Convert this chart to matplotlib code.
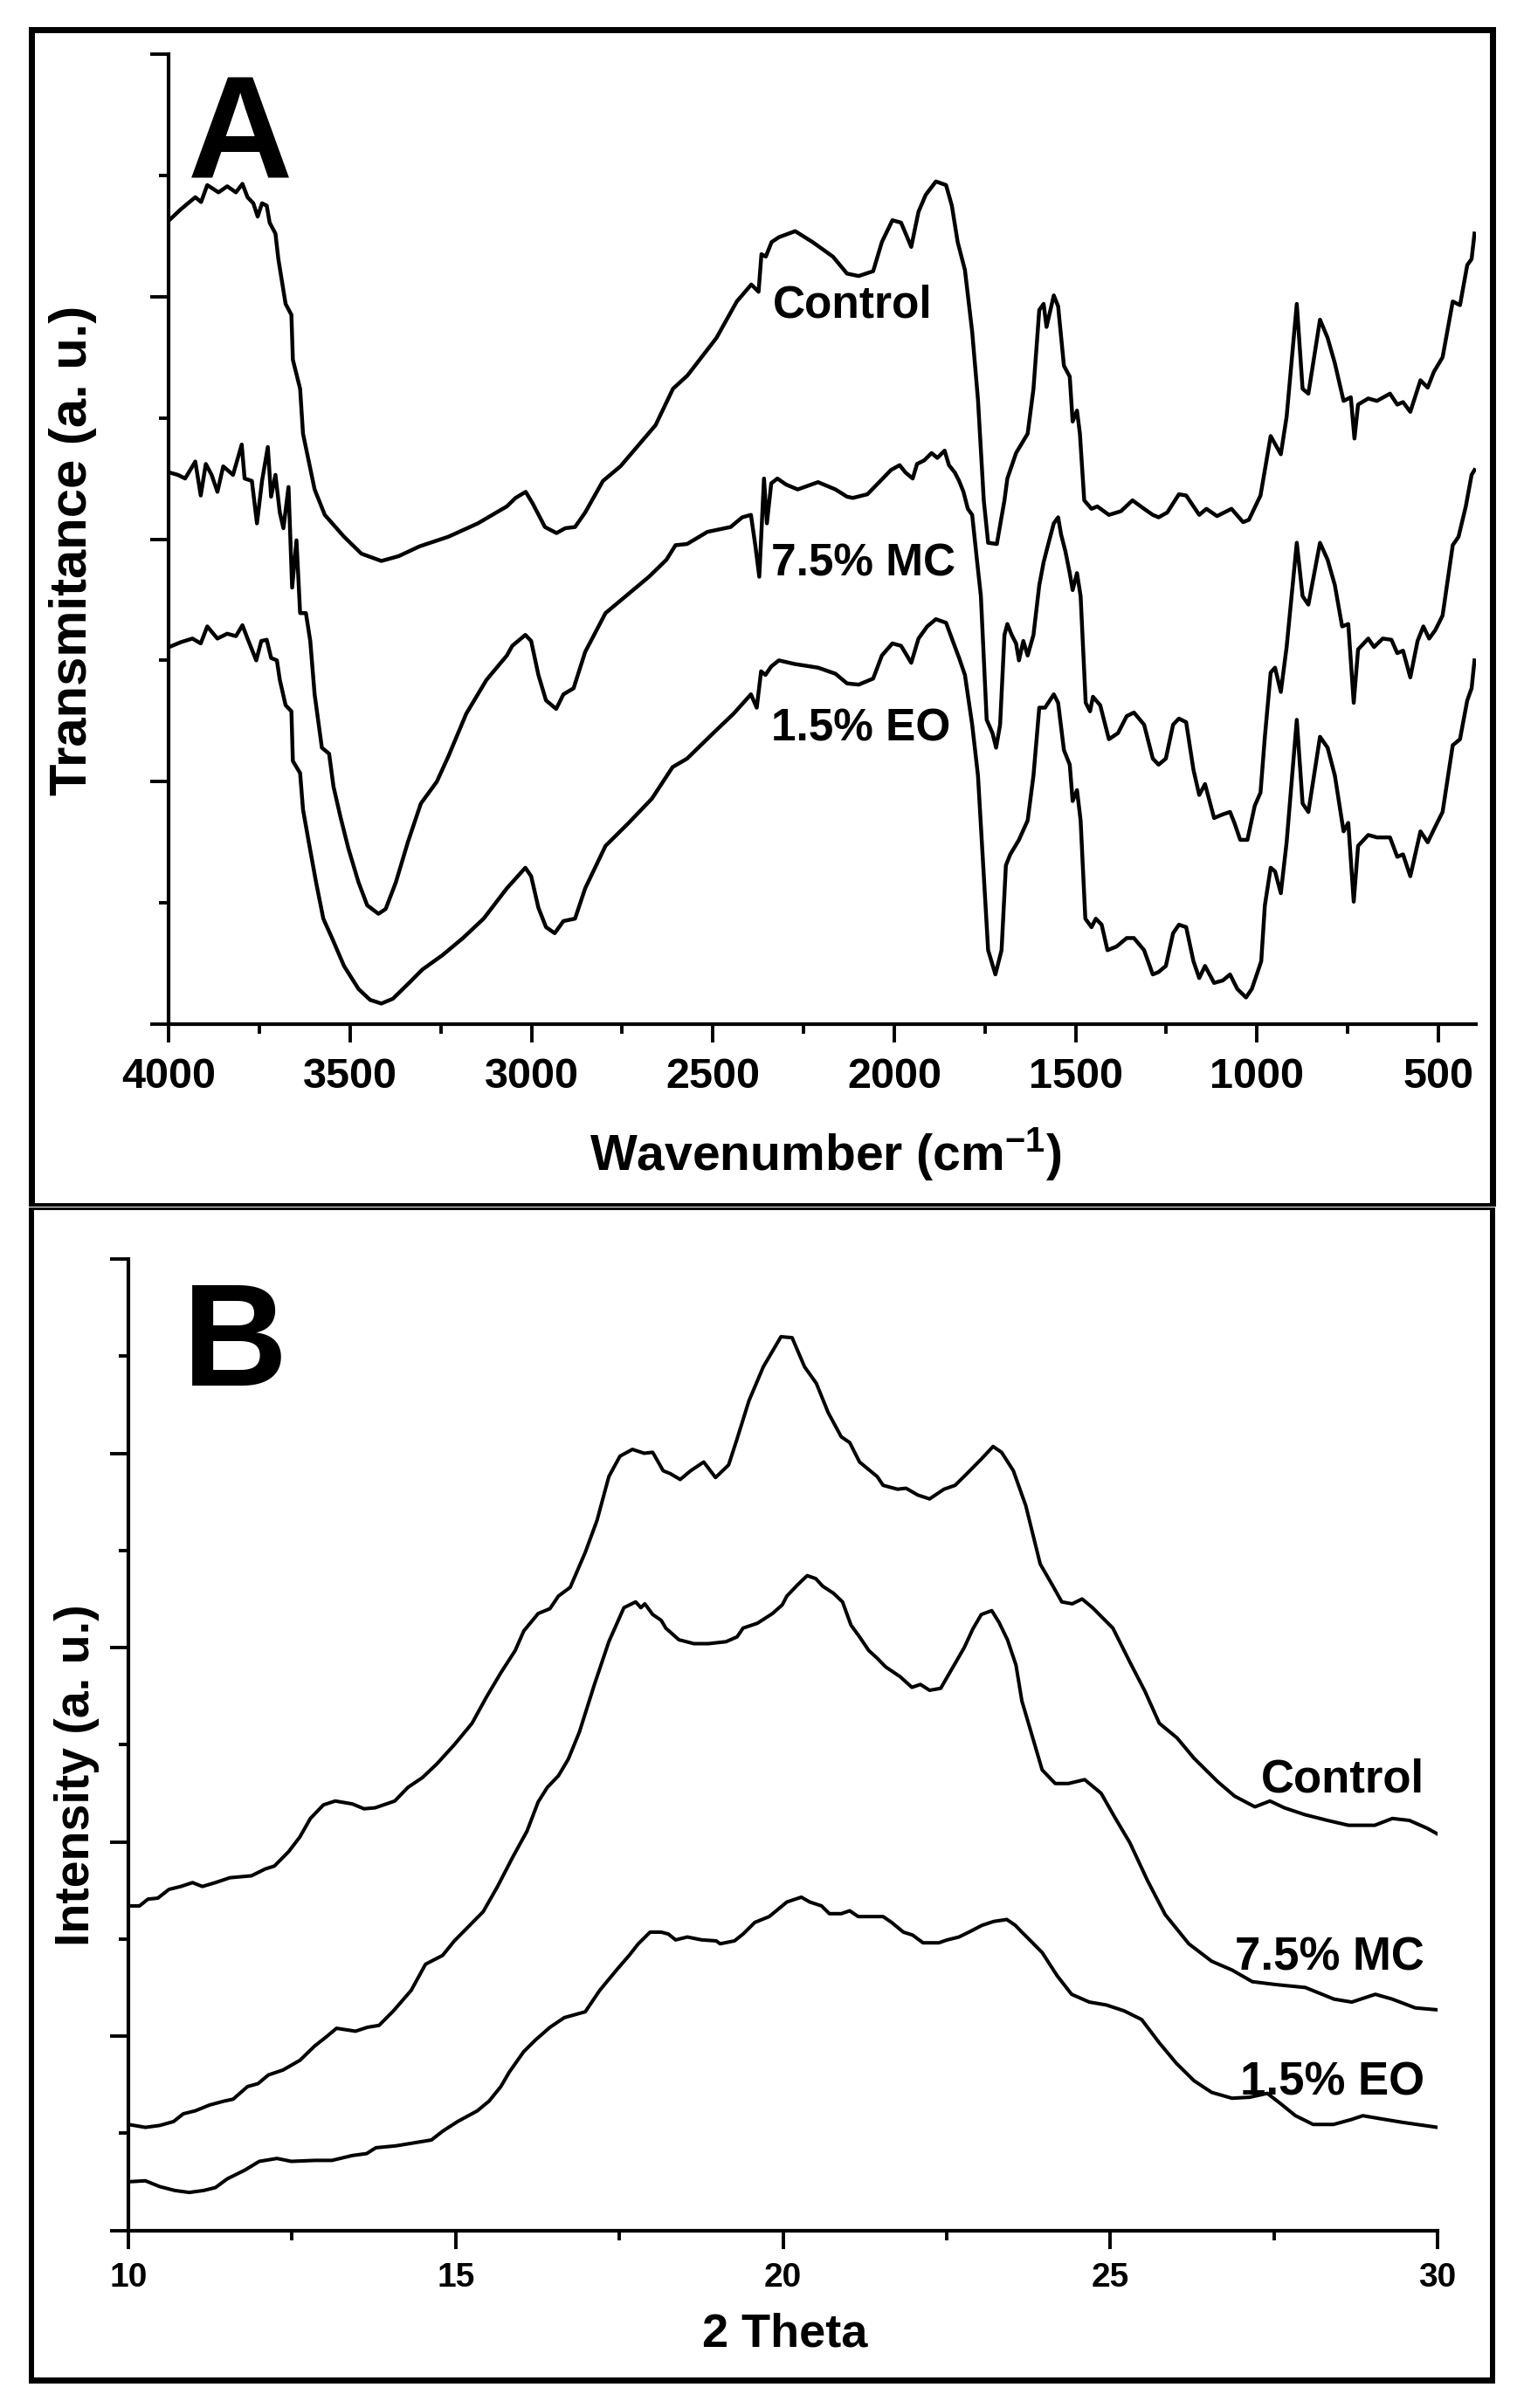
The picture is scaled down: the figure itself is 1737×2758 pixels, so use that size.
import matplotlib
matplotlib.use('Agg')
import matplotlib.pyplot as plt
from matplotlib.patches import Rectangle
from matplotlib.ticker import MultipleLocator, FixedLocator

plt.rcParams['font.family'] = ['Liberation Sans', 'DejaVu Sans']
plt.rcParams['font.weight'] = 'bold'
plt.rcParams['mathtext.fontset'] = 'custom'
plt.rcParams['mathtext.rm'] = 'Liberation Sans:bold'
plt.rcParams['mathtext.bf'] = 'Liberation Sans:bold'
plt.rcParams['mathtext.default'] = 'bf'

# ---------------- Panel A : FTIR (wavenumber cm-1, transmittance a.u.) ----------------
ftir_control = [(3999,6.63),(3967,6.72),(3927,6.82),(3911,6.78),(3894,6.92),(3863,6.86),(3839,6.91),(3815,6.86),
    (3797,6.93),(3783,6.82),(3767,6.77),(3755,6.66),(3743,6.77),(3730,6.75),(3722,6.61),(3706,6.52),(3698,6.31),
    (3678,5.94),(3662,5.85),(3658,5.48),(3638,5.24),(3630,4.87),(3598,4.41),(3570,4.20),(3517,4.02),(3469,3.88),
    (3414,3.82),(3366,3.86),(3309,3.94),(3229,4.02),(3148,4.13),(3068,4.27),(3044,4.34),(3016,4.39),(2996,4.29),
    (2963,4.10),(2931,4.05),(2907,4.09),(2880,4.10),(2852,4.22),(2803,4.48),(2755,4.60),(2658,4.94),(2610,5.24),
    (2570,5.35),(2490,5.66),(2434,5.96),(2394,6.10),(2374,6.04),(2366,6.35),(2354,6.33),(2338,6.45),(2318,6.49),
    (2273,6.54),(2225,6.45),(2169,6.33),(2130,6.19),(2098,6.17),(2058,6.21),(2034,6.45),(2005,6.63),(1981,6.61),
    (1953,6.41),(1933,6.70),(1913,6.84),(1885,6.95),(1857,6.92),(1841,6.75),(1825,6.45),(1805,6.22),(1785,5.71),
    (1769,5.15),(1753,4.32),(1741,3.97),(1717,3.96),(1696,4.32),(1688,4.50),(1664,4.71),(1632,4.87),(1616,5.24),
    (1600,5.89),(1588,5.94),(1580,5.75),(1560,6.01),(1548,5.92),(1532,5.43),(1516,5.34),(1508,4.97),(1496,5.06),
    (1488,4.87),(1476,4.32),(1456,4.25),(1440,4.27),(1408,4.20),(1375,4.23),(1343,4.32),(1311,4.25),(1287,4.20),
    (1271,4.18),(1247,4.22),(1215,4.37),(1195,4.36),(1159,4.20),(1139,4.25),(1110,4.19),(1070,4.25),(1038,4.14),
    (1022,4.16),(990,4.36),(962,4.85),(934,4.70),(918,5.01),(890,5.94),(874,5.24),(858,5.20),(826,5.81),(805,5.66),
    (785,5.45),(761,5.14),(741,5.17),(731,4.83),(721,5.11),(693,5.16),(669,5.14),(633,5.20),(613,5.11),(597,5.13),
    (577,5.05),(549,5.31),(529,5.25),(512,5.38),(488,5.50),(460,5.96),(440,5.93),(420,6.26),(408,6.31),(400,6.52)]

ftir_mc = [(3999,4.55),(3975,4.53),(3955,4.50),(3927,4.64),(3912,4.36),(3898,4.62),(3882,4.53),(3866,4.39),
    (3850,4.60),(3823,4.53),(3799,4.78),(3791,4.50),(3771,4.48),(3757,4.13),(3743,4.48),(3727,4.76),(3718,4.35),
    (3706,4.53),(3694,4.22),(3684,4.09),(3670,4.43),(3660,3.60),(3648,3.99),(3638,3.39),(3622,3.39),(3610,3.16),
    (3598,2.72),(3578,2.28),(3558,2.23),(3546,1.96),(3526,1.70),(3505,1.45),(3477,1.17),(3453,0.98),(3422,0.91),
    (3402,0.95),(3374,1.17),(3341,1.50),(3305,1.82),(3261,2.00),(3229,2.21),(3180,2.56),(3124,2.84),(3068,3.04),
    (3053,3.12),(3017,3.21),(3001,3.16),(2981,2.88),(2960,2.67),(2932,2.60),(2912,2.72),(2884,2.77),(2852,3.07),
    (2796,3.39),(2740,3.53),(2676,3.69),(2628,3.83),(2603,3.95),(2571,3.96),(2515,4.06),(2451,4.10),(2419,4.18),
    (2395,4.20),(2383,3.95),(2372,3.69),(2359,4.50),(2351,4.13),(2339,4.46),(2322,4.50),(2298,4.45),(2266,4.41),
    (2210,4.47),(2162,4.41),(2130,4.35),(2114,4.34),(2074,4.37),(2038,4.48),(2009,4.57),(1985,4.61),(1969,4.55),
    (1949,4.50),(1937,4.62),(1917,4.65),(1897,4.71),(1881,4.67),(1861,4.73),(1849,4.61),(1833,4.55),(1821,4.48),
    (1809,4.39),(1797,4.25),(1785,4.20),(1773,3.86),(1761,3.53),(1745,2.51),(1729,2.40),(1719,2.28),(1708,2.47),
    (1696,3.21),(1688,3.30),(1676,3.21),(1664,3.14),(1656,3.00),(1644,3.16),(1632,3.04),(1616,3.21),(1600,3.62),
    (1588,3.81),(1576,3.95),(1560,4.13),(1548,4.18),(1540,4.04),(1528,3.90),(1516,3.72),(1508,3.58),(1496,3.72),
    (1486,3.53),(1472,2.65),(1460,2.58),(1452,2.70),(1432,2.63),(1408,2.35),(1383,2.40),(1359,2.54),(1339,2.57),
    (1311,2.47),(1287,2.19),(1271,2.14),(1251,2.19),(1231,2.47),(1215,2.52),(1195,2.49),(1175,2.10),(1159,1.89),
    (1143,1.98),(1118,1.70),(1094,1.73),(1074,1.75),(1062,1.66),(1046,1.52),(1026,1.52),(1006,1.80),(990,1.91),
    (978,2.37),(962,2.90),(950,2.94),(934,2.74),(918,3.11),(890,3.97),(874,3.53),(858,3.46),(826,3.97),(805,3.83),
    (785,3.62),(765,3.28),(748,3.30),(733,2.65),(721,3.09),(693,3.18),(677,3.11),(653,3.18),(629,3.17),(613,3.06),
    (597,3.08),(577,2.86),(557,3.16),(541,3.28),(525,3.18),(508,3.25),(488,3.37),(460,3.95),(444,4.02),(424,4.27),
    (408,4.53),(400,4.57)]

ftir_eo = [(3999,3.11),(3967,3.15),(3935,3.18),(3912,3.14),(3894,3.28),(3866,3.18),(3839,3.22),(3815,3.20),
    (3797,3.29),(3783,3.18),(3759,3.00),(3745,3.16),(3730,3.17),(3718,3.02),(3702,3.00),(3694,2.84),(3678,2.63),
    (3662,2.58),(3658,2.17),(3638,2.07),(3630,1.77),(3614,1.50),(3594,1.17),(3574,0.87),(3550,0.71),(3517,0.48),
    (3477,0.29),(3445,0.20),(3414,0.17),(3382,0.21),(3341,0.33),(3301,0.45),(3245,0.57),(3189,0.71),(3132,0.87),
    (3068,1.12),(3053,1.17),(3017,1.29),(3001,1.22),(2981,0.96),(2960,0.80),(2936,0.75),(2912,0.85),(2880,0.87),
    (2852,1.12),(2796,1.47),(2732,1.66),(2668,1.86),(2611,2.12),(2571,2.19),(2499,2.40),(2443,2.56),(2395,2.72),
    (2379,2.61),(2367,2.91),(2355,2.88),(2339,2.95),(2318,3.00),(2274,2.97),(2210,2.94),(2162,2.89),(2130,2.81),
    (2098,2.80),(2058,2.85),(2034,3.04),(2005,3.14),(1981,3.12),(1953,2.98),(1933,3.18),(1909,3.28),(1885,3.34),
    (1857,3.31),(1841,3.18),(1821,3.02),(1805,2.88),(1785,2.47),(1769,2.05),(1753,1.22),(1741,0.61),(1721,0.41),
    (1704,0.61),(1692,1.31),(1680,1.40),(1656,1.52),(1632,1.68),(1616,2.05),(1600,2.61),(1584,2.61),(1560,2.72),
    (1548,2.65),(1532,2.26),(1516,2.14),(1508,1.84),(1496,1.93),(1486,1.68),(1473,0.87),(1456,0.80),(1444,0.87),
    (1428,0.82),(1412,0.61),(1387,0.64),(1359,0.71),(1339,0.71),(1311,0.61),(1287,0.41),(1271,0.43),(1251,0.48),
    (1231,0.75),(1215,0.82),(1195,0.80),(1175,0.52),(1159,0.38),(1143,0.48),(1118,0.34),(1094,0.36),(1074,0.41),
    (1054,0.29),(1030,0.22),(1014,0.29),(998,0.43),(988,0.52),(978,0.98),(962,1.29),(950,1.26),(934,1.08),
    (918,1.50),(890,2.51),(874,1.82),(858,1.75),(826,2.37),(805,2.28),(785,2.05),(761,1.59),(748,1.66),(733,1.01),
    (721,1.47),(693,1.56),(669,1.54),(633,1.54),(613,1.38),(597,1.40),(577,1.22),(549,1.59),(529,1.50),(508,1.63),
    (488,1.75),(460,2.30),(440,2.35),(420,2.67),(408,2.77),(400,3.00)]

ftir_labels = ["Control", "7.5% MC", "1.5% EO"]
ftir_label_pos = [(2334, 5.83), (2339, 3.70), (2339, 2.34)]
ftir_xticks = [4000, 3500, 3000, 2500, 2000, 1500, 1000, 500]

# ---------------- Panel B : XRD (2 theta, intensity a.u.) ----------------
xrd_control = [(10.00,3.34),(10.17,3.34),(10.30,3.41),(10.45,3.42),(10.62,3.51),(10.80,3.54),(10.98,3.58),
    (11.13,3.54),(11.33,3.58),(11.55,3.63),(11.88,3.65),(12.09,3.72),(12.23,3.75),(12.45,3.90),(12.62,4.05),
    (12.78,4.24),(12.98,4.38),(13.16,4.42),(13.42,4.39),(13.60,4.34),(13.77,4.35),(14.07,4.42),(14.27,4.56),
    (14.49,4.66),(14.71,4.80),(14.98,5.00),(15.25,5.22),(15.47,5.49),(15.69,5.74),(15.91,5.97),(16.04,6.17),
    (16.26,6.35),(16.44,6.40),(16.57,6.53),(16.75,6.62),(16.98,6.98),(17.16,7.31),(17.34,7.76),(17.51,7.97),
    (17.70,8.04),(17.88,8.00),(18.01,8.01),(18.17,7.82),(18.28,7.79),(18.43,7.73),(18.59,7.82),(18.79,7.91),
    (18.97,7.75),(19.17,7.88),(19.30,8.15),(19.48,8.54),(19.70,8.89),(19.97,9.20),(20.14,9.19),(20.33,8.89),
    (20.51,8.72),(20.69,8.42),(20.89,8.17),(21.02,8.11),(21.17,7.91),(21.44,7.76),(21.53,7.67),(21.75,7.63),
    (21.88,7.64),(22.06,7.57),(22.24,7.53),(22.46,7.63),(22.63,7.67),(22.81,7.79),(23.03,7.94),(23.21,8.07),
    (23.34,8.01),(23.52,7.82),(23.71,7.46),(23.93,6.86),(24.11,6.65),(24.26,6.47),(24.42,6.45),(24.57,6.50),
    (24.73,6.41),(25.04,6.20),(25.30,5.85),(25.53,5.55),(25.75,5.22),(26.02,5.07),(26.28,4.86),(26.64,4.62),
    (26.90,4.47),(27.21,4.36),(27.44,4.42),(27.66,4.35),(27.97,4.28),(28.32,4.22),(28.64,4.17),(29.04,4.17),
    (29.31,4.24),(29.57,4.22),(29.84,4.14),(30.00,4.08)]

xrd_mc = [(10.00,1.09),(10.26,1.06),(10.48,1.08),(10.69,1.12),(10.84,1.20),(11.02,1.23),(11.24,1.29),(11.46,1.33),
    (11.60,1.35),(11.82,1.48),(11.98,1.51),(12.14,1.60),(12.36,1.65),(12.62,1.75),(12.85,1.90),(13.02,1.99),
    (13.18,2.08),(13.47,2.05),(13.65,2.09),(13.83,2.11),(14.05,2.26),(14.32,2.47),(14.54,2.74),(14.80,2.83),
    (14.98,2.98),(15.20,3.13),(15.42,3.28),(15.64,3.54),(15.87,3.84),(16.09,4.11),(16.26,4.41),(16.40,4.56),
    (16.57,4.68),(16.72,4.85),(16.89,5.13),(17.12,5.62),(17.34,6.06),(17.57,6.41),(17.75,6.47),(17.83,6.41),
    (17.89,6.45),(18.01,6.34),(18.14,6.28),(18.21,6.20),(18.41,6.08),(18.64,6.04),(18.86,6.04),(19.13,6.06),
    (19.30,6.11),(19.39,6.20),(19.61,6.25),(19.84,6.35),(19.99,6.44),(20.06,6.53),(20.23,6.65),(20.37,6.74),
    (20.50,6.71),(20.61,6.63),(20.77,6.56),(20.91,6.47),(21.04,6.23),(21.17,6.11),(21.31,5.97),(21.44,5.89),
    (21.57,5.80),(21.79,5.70),(21.97,5.59),(22.10,5.62),(22.24,5.56),(22.41,5.58),(22.59,5.79),(22.77,6.00),
    (22.90,6.19),(23.03,6.34),(23.19,6.38),(23.30,6.26),(23.43,6.08),(23.56,5.82),(23.65,5.45),(23.79,5.13),
    (23.96,4.74),(24.16,4.60),(24.36,4.60),(24.61,4.64),(24.86,4.50),(25.08,4.24),(25.30,3.99),(25.57,3.60),
    (25.84,3.25),(26.20,2.95),(26.55,2.77),(26.86,2.68),(27.17,2.56),(27.53,2.53),(27.98,2.50),(28.42,2.38),
    (28.69,2.35),(29.05,2.43),(29.31,2.38),(29.66,2.29),(30.00,2.27)]

xrd_eo = [(10.00,0.50),(10.26,0.51),(10.48,0.45),(10.71,0.41),(10.93,0.39),(11.15,0.41),(11.33,0.44),(11.51,0.53),
    (11.78,0.62),(12.00,0.71),(12.27,0.74),(12.49,0.71),(12.85,0.72),(13.11,0.72),(13.42,0.77),(13.64,0.79),
    (13.78,0.85),(14.09,0.87),(14.36,0.90),(14.63,0.93),(14.80,1.02),(15.03,1.12),(15.33,1.23),(15.51,1.33),
    (15.69,1.48),(15.82,1.63),(16.04,1.84),(16.22,1.96),(16.44,2.09),(16.66,2.19),(16.98,2.25),(17.20,2.47),
    (17.47,2.69),(17.65,2.83),(17.79,2.95),(17.97,3.07),(18.14,3.07),(18.25,3.05),(18.36,2.99),(18.54,3.02),
    (18.76,2.99),(18.98,2.98),(19.04,2.95),(19.26,2.98),(19.39,3.05),(19.57,3.17),(19.79,3.23),(20.06,3.38),
    (20.28,3.43),(20.41,3.38),(20.59,3.34),(20.71,3.26),(20.89,3.26),(21.02,3.29),(21.15,3.23),(21.35,3.23),
    (21.53,3.23),(21.66,3.17),(21.84,3.07),(21.98,3.04),(22.14,2.96),(22.38,2.96),(22.51,2.99),(22.69,3.02),
    (22.87,3.08),(23.04,3.14),(23.22,3.18),(23.42,3.20),(23.55,3.14),(23.65,3.07),(23.74,3.01),(23.96,2.86),
    (24.19,2.62),(24.41,2.43),(24.68,2.35),(24.94,2.32),(25.21,2.26),(25.48,2.17),(25.75,1.93),(26.01,1.72),
    (26.28,1.54),(26.55,1.42),(26.86,1.36),(27.13,1.37),(27.40,1.41),(27.61,1.30),(27.83,1.18),(28.10,1.09),
    (28.41,1.09),(28.68,1.14),(28.86,1.18),(29.12,1.15),(29.48,1.11),(30.00,1.06)]

xrd_labels = ["Control", "7.5% MC", "1.5% EO"]
xrd_label_pos = [(29.80, 4.51), (29.80, 2.68), (29.80, 1.39)]
xrd_xticks = [10, 15, 20, 25, 30]

# ---------------- figure ----------------
W, H = 1737, 2758
fig = plt.figure(figsize=(W / 100, H / 100), dpi=100)
fig.patch.set_facecolor('white')


def fx(px):
    return px / W


def fy(py):
    return 1 - py / H


def frame_bar(x0, y0, x1, y1):
    fig.patches.append(Rectangle((fx(x0), fy(y1)), (x1 - x0) / W, (y1 - y0) / H,
                                 transform=fig.transFigure, facecolor='black',
                                 edgecolor='none', zorder=0))


# panel frames
frame_bar(33, 31, 1713, 38)
frame_bar(33, 31, 40, 1382)
frame_bar(1706, 31, 1713, 1382)
frame_bar(33, 1378, 1713, 1382)
frame_bar(33, 1383, 1712, 1386)
frame_bar(33, 1383, 39, 2730)
frame_bar(1706, 1383, 1712, 2730)
frame_bar(33, 2723, 1712, 2730)

axA = fig.add_axes([fx(193.3), fy(1173), (1690 - 193.3) / W, (1173 - 62) / H])
axB = fig.add_axes([fx(147), fy(2554.5), (1646 - 147) / W, (2554.5 - 1442) / H])

for ax in (axA, axB):
    ax.set_facecolor('none')
    for s in ('top', 'right'):
        ax.spines[s].set_visible(False)
    for s in ('left', 'bottom'):
        ax.spines[s].set_linewidth(3.0)
    ax.tick_params(which='major', direction='out', length=15, width=2.8)
    ax.tick_params(which='minor', direction='out', length=8, width=2.8)
    ax.tick_params(axis='y', which='both', labelleft=False)

# Panel A
for series in (ftir_control, ftir_mc, ftir_eo):
    xs = [p[0] for p in series]
    ys = [p[1] for p in series]
    axA.plot(xs, ys, color='black', lw=3.2, solid_joinstyle='round')
axA.set_xlim(4000, 396)
axA.set_ylim(0, 8)
axA.xaxis.set_major_locator(FixedLocator(ftir_xticks))
axA.xaxis.set_minor_locator(MultipleLocator(250))
axA.yaxis.set_major_locator(FixedLocator([0, 2, 4, 6, 8]))
axA.yaxis.set_minor_locator(FixedLocator([1, 3, 5, 7]))
axA.set_xticklabels([str(t) for t in ftir_xticks])
axA.tick_params(axis='x', labelsize=35, pad=12)
for lab in axA.get_xticklabels():
    lab.set_fontweight('bold')
axA.set_xlabel(r"Wavenumber (cm$^{-1}$)", fontsize=41, fontweight='bold', va='center')
axA.xaxis.set_label_coords((945 - 193.3) / (1690 - 193.3), (1173 - 1321) / (1173 - 62))
axA.set_ylabel("Transmitance (a. u.)", fontsize=43, fontweight='bold', va='center')
axA.yaxis.set_label_coords((84 - 193.3) / (1690 - 193.3), (1173 - 630) / (1173 - 62))
for txt, (x, y) in zip(ftir_labels, ftir_label_pos):
    axA.text(x, y, txt, fontsize=37, fontweight='bold', ha='left', va='baseline')

# Panel B
for series in (xrd_control, xrd_mc, xrd_eo):
    xs = [p[0] for p in series]
    ys = [p[1] for p in series]
    axB.plot(xs, ys, color='black', lw=2.9, solid_joinstyle='round')
axB.set_xlim(10, 30)
axB.set_ylim(0, 10)
axB.xaxis.set_major_locator(FixedLocator(xrd_xticks))
axB.xaxis.set_minor_locator(MultipleLocator(2.5))
axB.yaxis.set_major_locator(FixedLocator([0, 2, 4, 6, 8, 10]))
axB.yaxis.set_minor_locator(FixedLocator([1, 3, 5, 7, 9]))
axB.set_xticklabels([str(t) for t in xrd_xticks])
axB.tick_params(axis='x', labelsize=28, pad=11)
for lab in axB.get_xticklabels():
    lab.set_fontweight('bold')
axB.set_xlabel("2 Theta", fontsize=39, fontweight='bold', va='center')
axB.xaxis.set_label_coords((899 - 147) / (1646 - 147), (2554.5 - 2673) / (2554.5 - 1442))
axB.set_ylabel("Intensity (a. u.)", fontsize=40, fontweight='bold', va='center')
axB.yaxis.set_label_coords((88 - 147) / (1646 - 147), (2554.5 - 2033) / (2554.5 - 1442))
for txt, (x, y) in zip(xrd_labels, xrd_label_pos):
    axB.text(x, y, txt, fontsize=38, fontweight='bold', ha='right', va='baseline')

# panel letters
fig.text(fx(215), fy(204), "A", fontsize=120, fontweight='bold', ha='left', va='baseline')
fig.text(fx(209), fy(1587), "B", fontsize=120, fontweight='bold', ha='left', va='baseline')

fig.savefig('out.png', dpi=100, facecolor='white')
